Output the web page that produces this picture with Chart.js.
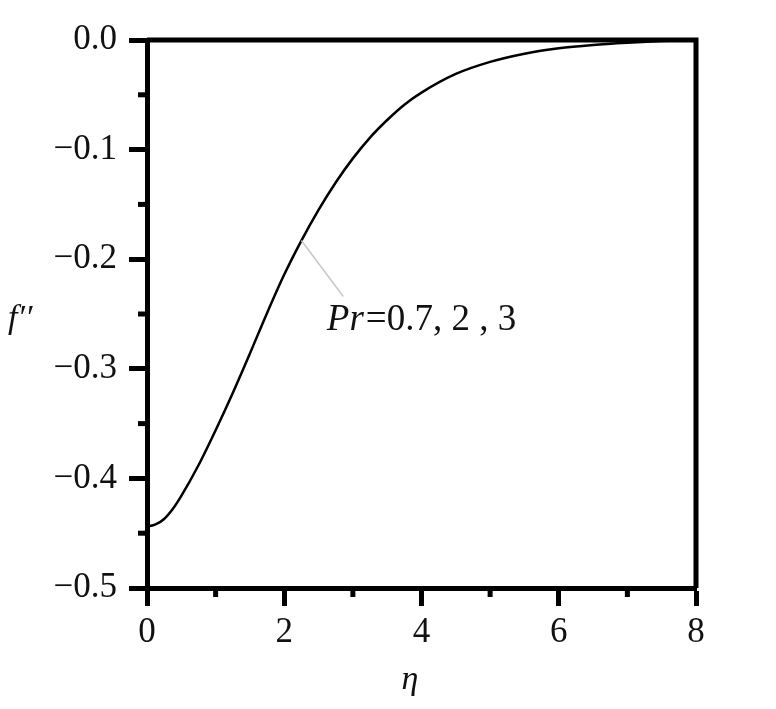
<!DOCTYPE html>
<html>
<head>
<meta charset="utf-8">
<script src="https://cdn.jsdelivr.net/npm/chart.js@4.4.0/dist/chart.umd.min.js"></script>
<style>
  html, body { margin: 0; padding: 0; background: #fff; }
  #wrap { width: 776px; height: 709px; position: relative; }
</style>
</head>
<body>
<div id="wrap"><canvas id="chart"></canvas></div>
<script>
// curve (same for Pr = 0.7, 2, 3)
const etaValues = [0, 0.125, 0.25, 0.375, 0.5, 0.75, 1.0, 1.25, 1.5, 1.75, 2.0, 2.25, 2.5, 2.75, 3.0, 3.25, 3.5, 3.75, 4.0, 4.5, 5.0, 5.5, 6.0, 6.5, 7.0, 7.5, 8.0];
const fppValues = [-0.444, -0.442, -0.437, -0.428, -0.416, -0.388, -0.356, -0.322, -0.286, -0.249, -0.214, -0.183, -0.155, -0.130, -0.108, -0.089, -0.073, -0.059, -0.048, -0.031, -0.020, -0.0125, -0.0075, -0.0045, -0.0025, -0.001, 0];

const xMajorTicks = [0, 2, 4, 6, 8];
const xMinorTicks = [1, 3, 5, 7];
const yMajorTicks = [-0.5, -0.4, -0.3, -0.2, -0.1, 0];
const yMinorTicks = [-0.45, -0.35, -0.25, -0.15, -0.05];

const noteText = ['Pr', '=0.7, 2 , 3'];
const noteAnchor = { x: 2.25, y: -0.183 };
const noteEnd = { x: 2.86, y: -0.234 };
const noteAt = { x: 2.62, y: -0.265 };

const FONT = '"Liberation Serif", "DejaVu Serif", serif';
const MINOR_LEN = 9;

const data = etaValues.map((e, i) => ({ x: e, y: fppValues[i] }));

const extras = {
  id: 'extras',
  afterDraw(chart) {
    const { ctx, chartArea: a, scales: { x, y } } = chart;
    ctx.save();
    ctx.strokeStyle = '#000';
    ctx.lineWidth = 5;
    ctx.lineCap = 'butt';

    // minor ticks
    xMinorTicks.forEach(v => {
      const px = x.getPixelForValue(v);
      ctx.beginPath();
      ctx.moveTo(px, a.bottom);
      ctx.lineTo(px, a.bottom + MINOR_LEN);
      ctx.stroke();
    });
    yMinorTicks.forEach(v => {
      const py = y.getPixelForValue(v);
      ctx.beginPath();
      ctx.moveTo(a.left, py);
      ctx.lineTo(a.left - MINOR_LEN, py);
      ctx.stroke();
    });

    // top and right frame
    ctx.lineJoin = 'miter';
    ctx.beginPath();
    ctx.moveTo(a.left, a.top);
    ctx.lineTo(a.right, a.top);
    ctx.lineTo(a.right, a.bottom);
    ctx.stroke();

    // leader line and note
    ctx.strokeStyle = '#c8c8c8';
    ctx.lineWidth = 1.5;
    ctx.beginPath();
    ctx.moveTo(x.getPixelForValue(noteAnchor.x), y.getPixelForValue(noteAnchor.y));
    ctx.lineTo(x.getPixelForValue(noteEnd.x), y.getPixelForValue(noteEnd.y));
    ctx.stroke();

    ctx.fillStyle = '#111';
    ctx.textBaseline = 'alphabetic';
    ctx.textAlign = 'left';
    let tx = x.getPixelForValue(noteAt.x);
    const ty = y.getPixelForValue(noteAt.y);
    ctx.font = 'italic 37px ' + FONT;
    ctx.fillText(noteText[0], tx, ty);
    tx += ctx.measureText(noteText[0]).width + 2;
    ctx.font = '37px ' + FONT;
    ctx.fillText(noteText[1], tx, ty);

    // axis titles
    ctx.font = 'italic 34px ' + FONT;
    ctx.fillText('f\u2032\u2032', 8, 328);
    ctx.textAlign = 'center';
    ctx.fillText('\u03b7', 410, 689);
    ctx.restore();
  }
};

new Chart(document.getElementById('chart'), {
  type: 'line',
  data: {
    datasets: [{
      data: data,
      borderColor: '#000',
      borderWidth: 2.5,
      pointRadius: 0,
      fill: false,
      cubicInterpolationMode: 'monotone'
    }]
  },
  options: {
    responsive: true,
    maintainAspectRatio: false,
    animation: false,
    layout: { padding: { left: 0, top: 40, right: 80, bottom: 0 } },
    plugins: { legend: { display: false }, tooltip: { enabled: false } },
    scales: {
      x: {
        type: 'linear',
        min: 0,
        max: 8,
        afterBuildTicks: s => { s.ticks = xMajorTicks.map(v => ({ value: v })); },
        afterFit: s => { s.height = 121; },
        grid: { drawOnChartArea: false, drawTicks: true, tickLength: 18, tickWidth: 5, tickColor: '#000' },
        border: { display: true, width: 5, color: '#000' },
        ticks: {
          color: '#111',
          font: { family: FONT, size: 35 },
          padding: 6,
          maxRotation: 0,
          autoSkip: false,
          callback: v => String(v)
        }
      },
      y: {
        type: 'linear',
        min: -0.5,
        max: 0,
        afterBuildTicks: s => { s.ticks = yMajorTicks.map(v => ({ value: v })); },
        afterFit: s => { s.width = 147; },
        grid: { drawOnChartArea: false, drawTicks: true, tickLength: 18, tickWidth: 5, tickColor: '#000' },
        border: { display: true, width: 5, color: '#000' },
        ticks: {
          color: '#111',
          font: { family: FONT, size: 35 },
          padding: 12,
          autoSkip: false,
          callback: v => (Math.abs(v) < 1e-9 ? '0.0' : '\u2212' + Math.abs(v).toFixed(1))
        }
      }
    }
  },
  plugins: [extras]
});
</script>
</body>
</html>
